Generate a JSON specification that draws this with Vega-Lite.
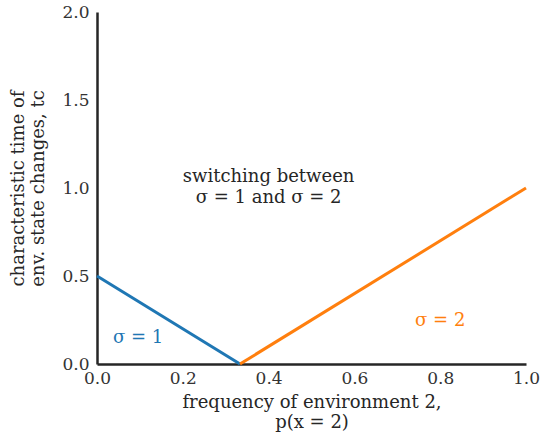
{
  "$schema": "https://vega.github.io/schema/vega-lite/v6.json",
  "width": 429,
  "height": 352,
  "autosize": {"type": "none"},
  "padding": {"left": 97, "top": 12, "right": 16, "bottom": 81},
  "config": {
    "view": {"stroke": null},
    "font": "DejaVu Serif",
    "axis": {
      "grid": false,
      "ticks": false,
      "labelFlush": false,
      "domainColor": "#262626",
      "domainWidth": 2.5,
      "labelColor": "#333333",
      "labelFontSize": 17,
      "labelFont": "DejaVu Serif",
      "titleFont": "DejaVu Serif",
      "titleFontSize": 18,
      "titleFontWeight": "normal",
      "titleColor": "#262626",
      "titleLineHeight": 20
    }
  },
  "datasets": {
    "lines": [
      {"p": 0.0, "t": 0.5, "sigma": "1"},
      {"p": 0.3333, "t": 0.0, "sigma": "1"},
      {"p": 0.3333, "t": 0.0, "sigma": "2"},
      {"p": 1.0, "t": 1.0, "sigma": "2"}
    ],
    "labels": [
      {"p": 0.4, "t": 1.06, "text": ["switching between", "σ = 1 and σ = 2"], "sigma": "none"}
    ],
    "series": [
      {"p": 0.096, "t": 0.15, "text": "σ = 1", "sigma": "1"},
      {"p": 0.80, "t": 0.245, "text": "σ = 2", "sigma": "2"}
    ]
  },
  "layer": [
    {
      "data": {"name": "lines"},
      "mark": {"type": "line", "strokeWidth": 3, "clip": false},
      "encoding": {
        "x": {
          "field": "p", "type": "quantitative",
          "scale": {"domain": [0, 1], "nice": false, "zero": false},
          "axis": {"values": [0, 0.2, 0.4, 0.6, 0.8, 1.0], "format": ".1f", "labelPadding": 6, "title": ["frequency of environment 2,", "p(x = 2)"], "titlePadding": 7}
        },
        "y": {
          "field": "t", "type": "quantitative",
          "scale": {"domain": [0, 2], "nice": false},
          "axis": {"values": [0, 0.5, 1.0, 1.5, 2.0], "format": ".1f", "labelPadding": 8, "title": ["characteristic time of", "env. state changes, tc"], "titlePadding": 14}
        },
        "color": {
          "field": "sigma", "type": "nominal",
          "scale": {"domain": ["1", "2"], "range": ["#1f77b4", "#ff7f0e"]},
          "legend": null
        },
        "detail": {"field": "sigma"}
      }
    },
    {
      "data": {"name": "labels"},
      "mark": {"type": "text", "fontSize": 18, "color": "#262626", "align": "center", "baseline": "middle", "lineHeight": 21},
      "encoding": {
        "x": {"field": "p", "type": "quantitative"},
        "y": {"field": "t", "type": "quantitative"},
        "text": {"field": "text"}
      }
    },
    {
      "data": {"name": "series"},
      "mark": {"type": "text", "fontSize": 18, "align": "center", "baseline": "middle"},
      "encoding": {
        "x": {"field": "p", "type": "quantitative"},
        "y": {"field": "t", "type": "quantitative"},
        "text": {"field": "text"},
        "color": {"field": "sigma", "type": "nominal", "scale": {"domain": ["1", "2"], "range": ["#1f77b4", "#ff7f0e"]}, "legend": null}
      }
    }
  ]
}
